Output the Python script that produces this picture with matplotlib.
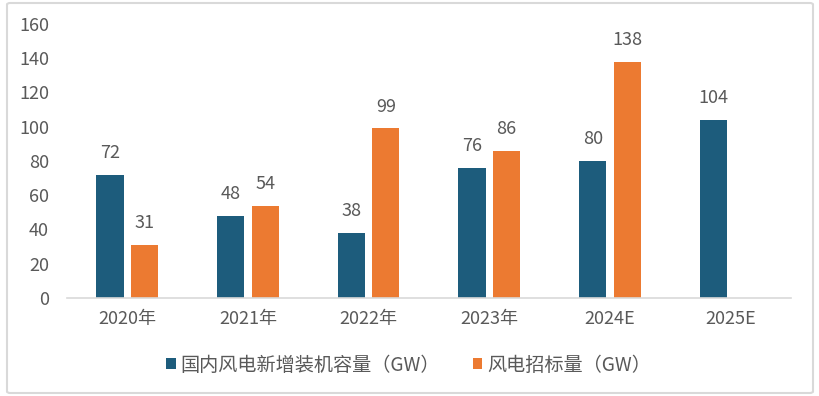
import numpy as np
import matplotlib.pyplot as plt
from matplotlib.patches import FancyBboxPatch

plt.rcParams['font.family'] = ['Noto Sans CJK SC', 'DejaVu Sans']
plt.rcParams['font.weight'] = 'light'

categories = ['2020年', '2021年', '2022年', '2023年', '2024E', '2025E']
installed = [72, 48, 38, 76, 80, 104]
tender = [31, 54, 99, 86, 138, np.nan]
name_installed = '国内风电新增装机容量（GW）'
name_tender = '风电招标量（GW）'

blue = '#1d5c7c'
orange = '#ec7a31'
grey = '#595959'

fig = plt.figure(figsize=(8.19, 3.96), dpi=100)
ax = fig.add_axes([0.0818, 0.2475, 0.884, 0.692])

x = np.arange(len(categories))
w = 0.225
off = 0.143
b1 = ax.bar(x - off, installed, w, color=blue, label=name_installed)
b2 = ax.bar(x + off, tender, w, color=orange, label=name_tender)

for xi, v in zip(x, installed):
    ax.annotate(str(v), (xi - off, v), xytext=(0, 9), textcoords='offset points',
                ha='center', va='bottom', fontsize=13, color=grey)
for xi, v in zip(x, tender):
    if not np.isnan(v):
        ax.annotate(str(int(v)), (xi + off, v), xytext=(0, 9), textcoords='offset points',
                    ha='center', va='bottom', fontsize=13, color=grey)

ax.set_xlim(-0.5, len(categories) - 0.5)
ax.set_ylim(0, 160)
ax.set_yticks(range(0, 161, 20))
ax.set_xticks(x)
ax.set_xticklabels(categories)
ax.tick_params(axis='both', length=0, labelsize=13, colors=grey)
ax.tick_params(axis='y', pad=13)
ax.tick_params(axis='x', pad=9)
for s in ['top', 'right', 'left']:
    ax.spines[s].set_visible(False)
ax.spines['bottom'].set_color('#d9d9d9')
ax.spines['bottom'].set_linewidth(1.2)

leg = fig.legend(handles=[b1, b2], loc='center', bbox_to_anchor=(0.499, 0.078), ncol=2,
                 frameon=False, fontsize=13.8, handlelength=0.5, handleheight=0.5,
                 handletextpad=0.25, columnspacing=1.7)
for t in leg.get_texts():
    t.set_color(grey)

border = FancyBboxPatch((7 / 819, 3 / 396), 806 / 819, 390 / 396,
                        boxstyle='round,pad=0,rounding_size=0.004',
                        transform=fig.transFigure, fill=False,
                        edgecolor='#d9d9d9', linewidth=1.5)
fig.patches.append(border)

fig.savefig('out.png', dpi=100)
